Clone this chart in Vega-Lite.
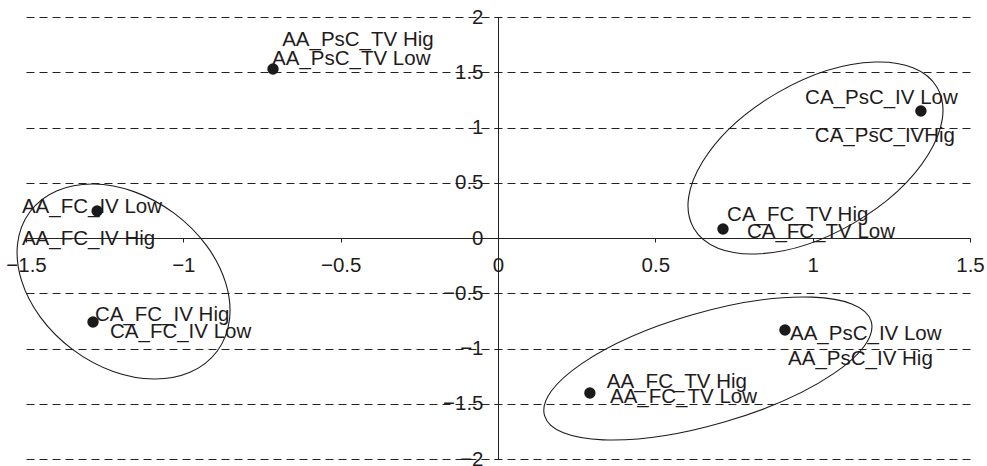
{
  "$schema": "https://vega.github.io/schema/vega-lite/v6.json",
  "width": 944,
  "height": 442,
  "autosize": {"type": "none"},
  "padding": {"left": 26, "top": 17, "right": 17, "bottom": 7},
  "background": "white",
  "config": {"view": {"stroke": null}, "font": "Liberation Sans"},
  "datasets": {
    "points": [
      {"name": "AA_PsC_TV", "x": -0.715, "y": 1.529},
      {"name": "AA_FC_IV", "x": -1.274, "y": 0.244},
      {"name": "CA_FC_IV", "x": -1.287, "y": -0.76},
      {"name": "CA_PsC_IV", "x": 1.344, "y": 1.149},
      {"name": "CA_FC_TV", "x": 0.715, "y": 0.081},
      {"name": "AA_PsC_IV", "x": 0.912, "y": -0.833},
      {"name": "AA_FC_TV", "x": 0.292, "y": -1.403}
    ],
    "labels": [
      {"label": "AA_PsC_TV Hig", "x": -0.686, "y": 1.792},
      {"label": "AA_PsC_TV Low", "x": -0.718, "y": 1.62},
      {"label": "AA_FC_IV Low", "x": -1.513, "y": 0.281},
      {"label": "AA_FC_IV Hig", "x": -1.513, "y": -0.005},
      {"label": "CA_FC_IV Hig", "x": -1.281, "y": -0.697},
      {"label": "CA_FC_IV Low", "x": -1.233, "y": -0.855},
      {"label": "CA_PsC_IV Low", "x": 0.976, "y": 1.271},
      {"label": "CA_PsC_IVHig", "x": 1.007, "y": 0.923},
      {"label": "CA_FC_TV Hig", "x": 0.728, "y": 0.208},
      {"label": "CA_FC_TV Low", "x": 0.791, "y": 0.054},
      {"label": "AA_PsC_IV Low", "x": 0.928, "y": -0.869},
      {"label": "AA_PsC_IV Hig", "x": 0.922, "y": -1.095},
      {"label": "AA_FC_TV Hig", "x": 0.346, "y": -1.299},
      {"label": "AA_FC_TV Low", "x": 0.356, "y": -1.439}
    ],
    "ellipses": [
      {"group": "left", "x": -1.19, "y": -0.394},
      {"group": "upper", "x": 1.009, "y": 0.724},
      {"group": "lower", "x": 0.667, "y": -1.181}
    ]
  },
  "encoding": {
    "x": {
      "field": "x", "type": "quantitative",
      "scale": {"domain": [-1.5, 1.5], "nice": false, "zero": false},
      "axis": {
        "title": null, "orient": "bottom", "offset": -221,
        "values": [-1.5, -1, -0.5, 0, 0.5, 1, 1.5], "format": "~g",
        "grid": false, "domainColor": "#222222", "domainWidth": 1,
        "tickColor": "#222222", "tickSize": 4,
        "labelFontSize": 20.5, "labelColor": "#1f1b1c", "labelFont": "Liberation Sans",
        "labelPadding": 13, "labelFlush": false, "labelOverlap": false, "labelBound": false
      }
    },
    "y": {
      "field": "y", "type": "quantitative",
      "scale": {"domain": [-2, 2], "nice": false, "zero": false},
      "axis": {
        "title": null, "orient": "left", "offset": -472,
        "values": [-2, -1.5, -1, -0.5, 0, 0.5, 1, 1.5, 2], "format": "~g",
        "grid": true, "gridDash": [8, 5], "gridColor": "#222222", "gridWidth": 1, "gridOpacity": 1,
        "domainColor": "#222222", "domainWidth": 1,
        "tickColor": "#222222", "tickSize": 4,
        "labelFontSize": 20.5, "labelColor": "#1f1b1c", "labelFont": "Liberation Sans",
        "labelPadding": 11, "labelFlush": false, "labelOverlap": false, "labelBound": false
      }
    }
  },
  "layer": [
    {
      "data": {"name": "ellipses"},
      "transform": [{"filter": "datum.group === 'left'"}],
      "mark": {"type": "point", "shape": "M 1 0 C 1 0.402 0.5523 0.728 0 0.728 C -0.5523 0.728 -1 0.402 -1 0 C -1 -0.402 -0.5523 -0.728 0 -0.728 C 0.5523 -0.728 1 -0.402 1 0 Z", "size": 54477, "angle": 36.7, "filled": false, "stroke": "#1f1b1c", "strokeWidth": 1.1, "opacity": 1}
    },
    {
      "data": {"name": "ellipses"},
      "transform": [{"filter": "datum.group === 'upper'"}],
      "mark": {"type": "point", "shape": "M 1 0 C 1 0.2966 0.5523 0.537 0 0.537 C -0.5523 0.537 -1 0.2966 -1 0 C -1 -0.2966 -0.5523 -0.537 0 -0.537 C 0.5523 -0.537 1 -0.2966 1 0 Z", "size": 79073, "angle": -30, "filled": false, "stroke": "#1f1b1c", "strokeWidth": 1.1, "opacity": 1}
    },
    {
      "data": {"name": "ellipses"},
      "transform": [{"filter": "datum.group === 'lower'"}],
      "mark": {"type": "point", "shape": "M 1 0 C 1 0.1817 0.5523 0.329 0 0.329 C -0.5523 0.329 -1 0.1817 -1 0 C -1 -0.1817 -0.5523 -0.329 0 -0.329 C 0.5523 -0.329 1 -0.1817 1 0 Z", "size": 115600, "angle": -16.1, "filled": false, "stroke": "#1f1b1c", "strokeWidth": 1.1, "opacity": 1}
    },
    {
      "data": {"name": "points"},
      "mark": {"type": "point", "filled": true, "size": 130, "color": "#1a1a1a", "opacity": 1}
    },
    {
      "data": {"name": "labels"},
      "mark": {"type": "text", "align": "left", "baseline": "middle", "fontSize": 20.5, "color": "#1f1b1c", "font": "Liberation Sans"},
      "encoding": {"text": {"field": "label"}}
    }
  ]
}
